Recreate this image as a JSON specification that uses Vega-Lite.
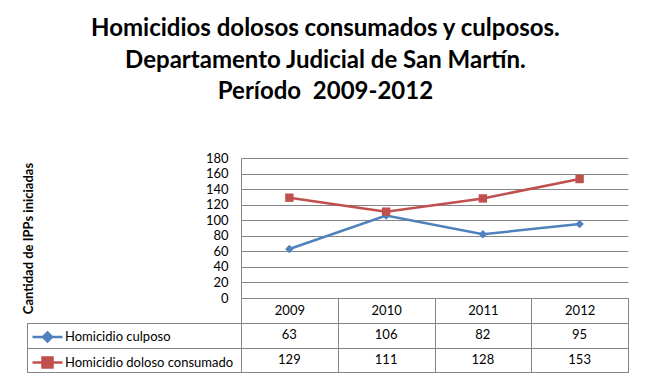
{
  "$schema": "https://vega.github.io/schema/vega-lite/v6.json",
  "background": "white",
  "padding": {"left": 22, "top": 17, "right": 10, "bottom": 5},
  "title": {
    "text": ["Homicidios dolosos consumados y culposos.", "Departamento Judicial de San Martín.", "Período \u00a02009-2012"],
    "font": "Lato",
    "fontSize": 24,
    "fontWeight": "bold",
    "lineHeight": 31.5,
    "color": "black",
    "anchor": "middle",
    "offset": 48
  },
  "datasets": {
    "d": [
      {"year": "2009", "series": "Homicidio culposo", "value": 63},
      {"year": "2010", "series": "Homicidio culposo", "value": 106},
      {"year": "2011", "series": "Homicidio culposo", "value": 82},
      {"year": "2012", "series": "Homicidio culposo", "value": 95},
      {"year": "2009", "series": "Homicidio doloso consumado", "value": 129},
      {"year": "2010", "series": "Homicidio doloso consumado", "value": 111},
      {"year": "2011", "series": "Homicidio doloso consumado", "value": 128},
      {"year": "2012", "series": "Homicidio doloso consumado", "value": 153}
    ]
  },
  "columns": 2,
  "bounds": "flush",
  "spacing": {"row": 25, "column": 0},
  "concat": [
    {
      "width": 214,
      "height": 140,
      "data": {"values": []},
      "mark": "point",
      "view": {"stroke": null}
    },
    {
      "width": 387,
      "height": 140,
      "data": {"name": "d"},
      "view": {"stroke": null},
      "encoding": {
        "x": {
          "field": "year",
          "type": "ordinal",
          "bandPosition": 0.5,
          "scale": {"type": "band", "paddingInner": 0, "paddingOuter": 0},
          "axis": {
            "title": null,
            "labelAngle": 0,
            "domain": true,
            "domainColor": "#868686",
            "ticks": true,
            "tickBand": "extent",
            "tickSize": 25,
            "tickColor": "#868686",
            "labelPadding": -12.5,
            "labelBaseline": "middle",
            "labelFont": "Lato",
            "labelFontSize": 13,
            "labelColor": "black",
            "grid": false
          }
        },
        "y": {
          "field": "value",
          "type": "quantitative",
          "scale": {"domain": [0, 180]},
          "axis": {
            "title": "Cantidad de IPPs iniciadas",
            "titleFont": "Lato",
            "titleFontSize": 13,
            "titleFontWeight": "bold",
            "titleColor": "black",
            "titlePadding": 170,
            "titleY": 80,
            "values": [0, 20, 40, 60, 80, 100, 120, 140, 160, 180],
            "grid": true,
            "gridColor": "#868686",
            "domain": true,
            "domainColor": "#868686",
            "ticks": false,
            "labelPadding": 13,
            "labelFont": "Lato",
            "labelFontSize": 13,
            "labelColor": "black"
          }
        },
        "color": {
          "field": "series",
          "type": "nominal",
          "scale": {"domain": ["Homicidio culposo", "Homicidio doloso consumado"], "range": ["#4F81BD", "#C0504D"]},
          "legend": {
            "title": null,
            "orient": "none",
            "legendX": 9,
            "legendY": 167.5,
            "direction": "vertical",
            "padding": 0,
            "labelFont": "Lato",
            "labelFontSize": 13,
            "labelColor": "black",
            "labelLimit": 0,
            "labelOffset": 6,
            "symbolSize": 400,
            "symbolStrokeWidth": 2.5,
            "symbolOpacity": 1,
            "rowPadding": 4.5,
            "encode": {
              "symbols": {
                "update": {
                  "shape": {"signal": "datum.value === 'Homicidio culposo' ? 'M-1.5,0H1.5M0,-0.45L0.45,0L0,0.45L-0.45,0Z' : 'M-1.5,0H1.5M-0.5,-0.5H0.5V0.5H-0.5Z'"},
                  "fill": {"signal": "datum.value === 'Homicidio culposo' ? '#4F81BD' : '#C0504D'"},
                  "stroke": {"signal": "datum.value === 'Homicidio culposo' ? '#4F81BD' : '#C0504D'"}
                }
              }
            }
          }
        }
      },
      "layer": [
        {"mark": {"type": "line", "strokeWidth": 2.5}},
        {
          "transform": [{"filter": "datum.series === 'Homicidio culposo'"}],
          "mark": {"type": "point", "shape": "diamond", "filled": true, "opacity": 1, "size": 70}
        },
        {
          "transform": [{"filter": "datum.series === 'Homicidio doloso consumado'"}],
          "mark": {"type": "point", "shape": "square", "filled": true, "opacity": 1, "size": 70}
        }
      ]
    },
    {
      "width": 214,
      "height": 49,
      "data": {"name": "d"},
      "view": {"stroke": "#868686"},
      "mark": {"type": "point", "opacity": 0},
      "encoding": {
        "y": {
          "field": "series",
          "type": "nominal",
          "scale": {"type": "band", "paddingInner": 0, "paddingOuter": 0},
          "axis": {"title": null, "labels": false, "ticks": false, "domain": false, "grid": true, "gridColor": "#868686", "tickBand": "extent"}
        }
      }
    },
    {
      "width": 387,
      "height": 49,
      "data": {"name": "d"},
      "view": {"stroke": "#868686"},
      "mark": {"type": "text", "font": "Lato", "fontSize": 13, "color": "black"},
      "encoding": {
        "x": {
          "field": "year",
          "type": "ordinal",
          "scale": {"type": "band", "paddingInner": 0, "paddingOuter": 0},
          "axis": {"title": null, "labels": false, "ticks": false, "domain": false, "grid": true, "gridColor": "#868686", "tickBand": "extent"}
        },
        "y": {
          "field": "series",
          "type": "nominal",
          "scale": {"type": "band", "paddingInner": 0, "paddingOuter": 0},
          "axis": {"title": null, "labels": false, "ticks": false, "domain": false, "grid": true, "gridColor": "#868686", "tickBand": "extent"}
        },
        "text": {"field": "value", "type": "quantitative"}
      }
    }
  ],
  "config": {"view": {"stroke": null}, "font": "Lato"}
}
